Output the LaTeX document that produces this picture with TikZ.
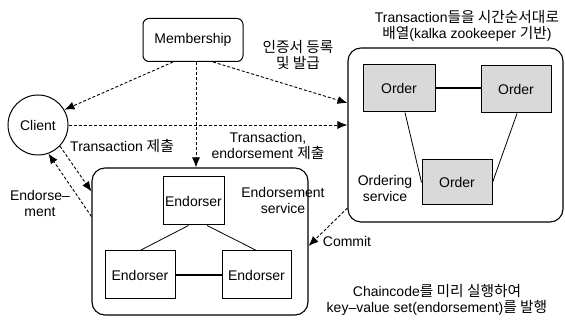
\documentclass[tikz,border=0pt]{standalone}
\usepackage{fontspec}
\setmainfont{Liberation Sans}
\newfontfamily\kr[Scale=1.05]{Noto Sans CJK KR}
\usetikzlibrary{arrows.meta}
\tikzset{
  box/.style={draw=black, line width=1pt, minimum width=#1, inner sep=0pt},
  grp/.style={draw=black, line width=1.1pt, rounded corners=13pt, inner sep=0pt},
  ord/.style={draw=black, line width=1pt, fill=black!15, inner sep=0pt, minimum height=47pt},
  msg/.style={black, line width=0.9pt, dash pattern=on 3pt off 2pt, -{Latex[length=10pt,width=8pt]}},
  link/.style={black, line width=0.8pt},
  link2/.style={black, line width=2pt},
  lbl/.style={align=center, inner sep=0pt}
}
\begin{document}
\begin{tikzpicture}[x=1pt,y=-1pt,font=\fontsize{14}{16}\selectfont]
        \useasboundingbox (0,0) rectangle (565,320);
        % groups
        \node [grp, minimum width=216pt, minimum height=147pt] (endbox) at (200,241.5) {};
        \node [grp, minimum width=215pt, minimum height=174pt] (ordbox) at (455.5,135) {};
        % members
        \node [box=100pt, rounded corners=6pt, minimum height=43pt] (mem) at (193,40) {Membership};
        \node [draw=black, line width=1pt, circle, minimum size=60pt, inner sep=0pt] (client) at (38,125) {Client};
        \node [box=61pt, minimum height=48pt] (e1) at (193.5,201) {Endorser};
        \node [box=70pt, minimum height=48pt] (e2) at (140,275) {Endorser};
        \node [box=69pt, minimum height=48pt] (e3) at (256.5,275) {Endorser};
        \node [ord, minimum width=72pt] (o1) at (399,88.5) {Order};
        \node [ord, minimum width=70pt] (o2) at (516,89.5) {Order};
        \node [ord, minimum width=70pt, minimum height=45pt] (o3) at (457,182.5) {Order};
        % links
        \draw [link] ([xshift=-5pt]e1.south) -- (e2.north);
        \draw [link] ([xshift=13.5pt]e1.south) -- (e3.north);
        \draw [link2] (e2.east) -- (e3.west);
        \draw [link2] (o1.east) -- (o2.west |- o1.east);
        \draw [link] ([xshift=6pt]o1.south) -- (o3.west);
        \draw [link] ([xshift=1pt]o2.south) -- (o3.east);
        % messages
        \draw [msg] ([xshift=-20pt]mem.south) -- (client.30);
        \draw [msg] ([xshift=3pt]mem.south) -- ([xshift=-4pt]endbox.north);
        \draw [msg] ([xshift=20pt]mem.south) -- ([yshift=32pt]ordbox.west);
        \draw [msg] (client.east) -- (client.east -| ordbox.west);
        \draw [msg] (client.-44) -- ([yshift=50pt]endbox.west);
        \draw [msg] ([yshift=25pt]endbox.west) -- (client.-70);
        \draw [msg] ([yshift=-73pt]ordbox.west) -- ([yshift=-4.5pt]endbox.east);
        % labels
        \node [lbl] (cert) at (298,55) {{\kr 인증서 등록}\\{\kr 및 발급}};
        \node [lbl] (sorting) at (467,26) {Transaction{\kr 들을 시간순서대로}\\{\kr 배열}(kalka zookeeper {\kr 기반})};
        \node [lbl] (submit) at (122,146) {Transaction {\kr 제출}};
        \node [lbl] (submit2) at (268,146) {Transaction,\\endorsement {\kr 제출}};
        \node [lbl] (endsvc) at (283,200) {Endorsement\\service};
        \node [lbl] (endret) at (40,203) {Endorse--\\ment};
        \node [lbl] (ordsvc) at (385,188) {Ordering\\service};
        \node [lbl] (commit) at (347,241) {Commit};
        \node [lbl] (chain) at (437,300) {Chaincode{\kr 를 미리 실행하여}\\key--value set(endorsement){\kr 를 발행}};
    \end{tikzpicture}
\end{document}
